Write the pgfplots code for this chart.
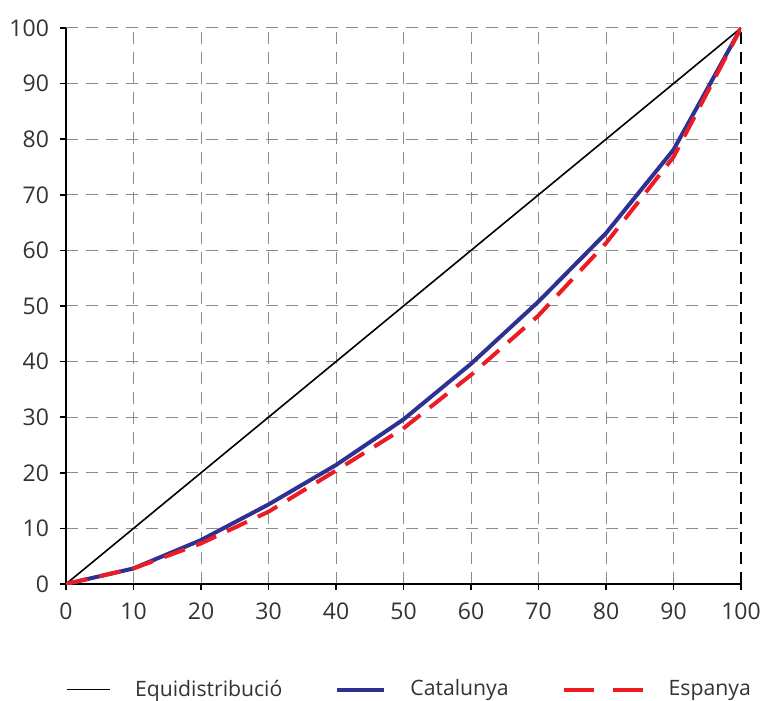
\documentclass[border=0pt]{standalone}
\usepackage{fontspec}
\setmainfont{Open Sans}
\usepackage{pgfplots}
\pgfplotsset{compat=1.18}
\definecolor{catblue}{HTML}{2E3192}
\definecolor{espred}{HTML}{ED1C24}
\definecolor{gridgray}{HTML}{8C8C8C}
\definecolor{labgray}{HTML}{333333}
\pgfplotsset{
  legA/.style={legend image code/.code={\draw[##1] (0pt,0pt) -- (21.5pt,0pt);}},
  legB/.style={legend image code/.code={\draw[##1] (0pt,0pt) -- (23.5pt,0pt);}},
  legC/.style={legend image code/.code={\draw[##1, dash pattern=on 15pt off 9.5pt] (0pt,0pt) -- (39.5pt,0pt);}},
}
\begin{document}
\fontsize{11.5}{13}\selectfont
\begin{tikzpicture}
\useasboundingbox (-33pt,-58pt) rectangle (349pt,292pt);
\begin{axis}[
  at={(0,0)}, anchor=south west, scale only axis,
  width=337.5pt, height=278pt,
  xmin=0, xmax=100, ymin=0, ymax=100,
  axis x line=bottom, axis y line=left,
  axis line style={-, line width=1.2pt, black},
  xtick={0,10,...,100}, ytick={0,10,...,100},
  tick align=outside, major tick length=3pt,
  tick style={black, line width=0.8pt},
  grid=major,
  grid style={gridgray, dash pattern=on 6pt off 4pt, line width=0.5pt},
  extra x ticks={100}, extra x tick labels={},
  extra x tick style={grid=major, grid style={black, line width=1.2pt, dash pattern=on 6pt off 4pt}},
  /pgf/number format/assume math mode=true,
  ticklabel style={font=\fontsize{11.5}{13}\selectfont, text=labgray},
  xticklabel style={yshift=-2.5pt},
  yticklabel style={xshift=-1.5pt},
  legend columns=3,
  legend cell align=left,
  legend style={draw=none, fill=none, at={(0,-0.19)}, anchor=west, inner sep=0pt,
    font=\fontsize{10.6}{12.5}\selectfont, text=labgray,
    /tikz/every odd column/.append style={column sep=10pt},
    /tikz/every even column/.append style={column sep=24.5pt}},
]
\addplot[black, line width=0.8pt, legA]
  coordinates {(0,0) (100,100)};
\addlegendentry{Equidistribució}
\addplot[catblue, line width=2pt, legB]
  coordinates {(0,0) (10,2.8) (20,7.9) (30,14.3) (40,21.4) (50,29.6) (60,39.6) (70,50.8) (80,63.1) (90,78.1) (100,100)};
\addlegendentry{Catalunya}
\addplot[espred, line width=2pt, dash pattern=on 11pt off 6pt, legC]
  coordinates {(0,0) (10,2.8) (20,7.3) (30,13) (40,20.4) (50,28) (60,37.6) (70,48.3) (80,61.3) (90,76.8) (100,100)};
\addlegendentry{Espanya}
\end{axis}
\end{tikzpicture}
\end{document}
